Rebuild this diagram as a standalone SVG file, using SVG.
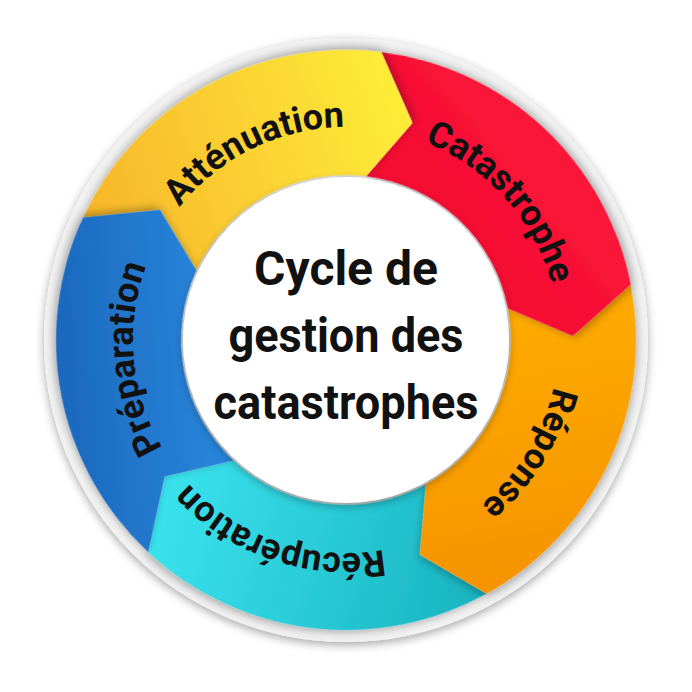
<svg xmlns="http://www.w3.org/2000/svg" width="692" height="692" viewBox="0 0 692 692">
<defs>
<style>
.lbl{font-family:Roboto,"Liberation Sans",sans-serif;font-weight:bold;font-size:36px;fill:#111}
.ctr{font-family:Roboto,"Liberation Sans",sans-serif;font-weight:bold;font-size:48px;fill:#111;text-anchor:middle}
</style>
<filter id="sh" x="-20%" y="-20%" width="140%" height="140%"><feDropShadow dx="0" dy="3" stdDeviation="5" flood-color="#000" flood-opacity="0.35"/></filter>
<path id="arr" d="M290,0 A290,290 0 0 1 89.6,275.8 L31.6,224.8 L51,156.9 A165,165 0 0 0 165,0 L223.6,39.4 Z"/>
<linearGradient id="gb" x1="0" y1="0" x2="1" y2="1"><stop offset="0" stop-color="#2f9bf0"/><stop offset="1" stop-color="#1453a8"/></linearGradient>
<linearGradient id="gy" x1="1" y1="0" x2="0" y2="1"><stop offset="0" stop-color="#f7b52a"/><stop offset="1" stop-color="#fff23a"/></linearGradient>
<linearGradient id="gr" x1="0" y1="0" x2="1" y2="1"><stop offset="0" stop-color="#f0002a"/><stop offset="1" stop-color="#ff2040"/></linearGradient>
<linearGradient id="go" x1="0" y1="0" x2="0" y2="1"><stop offset="0" stop-color="#ffab00"/><stop offset="1" stop-color="#f59300"/></linearGradient>
<linearGradient id="gc" x1="0" y1="1" x2="1" y2="0"><stop offset="0" stop-color="#3de8f2"/><stop offset="1" stop-color="#18b3c0"/></linearGradient>
<path id="tp" d="M559,340 A213,213 0 1 1 133,340 A213,213 0 1 1 559,340 A213,213 0 1 1 133,340 A213,213 0 1 1 559,340"/>
</defs>
<circle cx="346" cy="340" r="302" fill="#f2f2f2" filter="url(#sh)"/>
<g id="connectors"/>
<g id="cyan" transform="translate(346,340) rotate(61)"><use href="#arr" fill="url(#gc)" filter="url(#sh)"/></g>
<g id="orange" transform="translate(346,340) rotate(349)"><use href="#arr" fill="url(#go)" filter="url(#sh)"/></g>
<g id="red" transform="translate(346,340) rotate(277)"><use href="#arr" fill="url(#gr)" filter="url(#sh)"/></g>
<g id="yellow" transform="translate(346,340) rotate(205)"><use href="#arr" fill="url(#gy)" filter="url(#sh)"/></g>
<g id="blue" transform="translate(346,340) rotate(133)"><use href="#arr" fill="url(#gb)" filter="url(#sh)"/></g>
<g id="labels">
<text class="lbl" text-anchor="middle"><textPath href="#tp" startOffset="44.2%">Catastrophe</textPath></text>
<text class="lbl" text-anchor="middle"><textPath href="#tp" startOffset="54.4%">Réponse</textPath></text>
<text class="lbl" text-anchor="middle"><textPath href="#tp" startOffset="65.1%">Récupération</textPath></text>
<text class="lbl" text-anchor="middle"><textPath href="#tp" startOffset="74.3%">Préparation</textPath></text>
<text class="lbl" text-anchor="middle"><textPath href="#tp" startOffset="83.9%">Atténuation</textPath></text>
</g>
<g id="center">
<circle cx="346" cy="340" r="163" fill="#fff" filter="url(#sh)"/>
<text class="ctr" x="346" y="285">Cycle de</text>
<text class="ctr" x="346" y="352" textLength="235" lengthAdjust="spacingAndGlyphs">gestion des</text>
<text class="ctr" x="346" y="419" textLength="265" lengthAdjust="spacingAndGlyphs">catastrophes</text>
</g>
</svg>
